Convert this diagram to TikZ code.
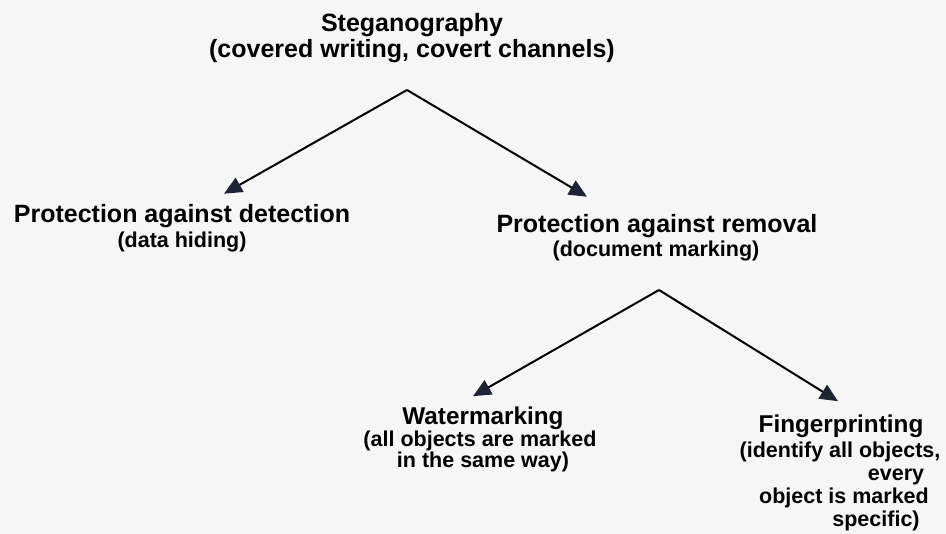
\documentclass[tikz,border=0pt]{standalone}
\usepackage{fontspec}
\setmainfont{Liberation Sans}
\usetikzlibrary{arrows.meta}
\definecolor{tipdark}{HTML}{1E2433}
\definecolor{paper}{HTML}{F6F6F6}

\begin{document}
\begin{tikzpicture}[x=1pt, y=-1pt,
	head/.style={inner sep=0, anchor=base, font=\bfseries\fontsize{25}{30}\selectfont},
	leaf/.style={inner sep=0, anchor=base, font=\bfseries\fontsize{24.3}{29}\selectfont},
	subhead/.style={inner sep=0, anchor=base, font=\bfseries\fontsize{21.5}{26}\selectfont},
	branch/.style={line width=2pt, -{Triangle[length=18pt, width=16pt, color=tipdark]}}]

% page
	\fill[paper] (0,0) rectangle (946,534);
	\useasboundingbox (0,0) rectangle (946,534);

% top of the tree
	\node[head] (steg) at (412,32) {Steganography};
	\node[head] (stegsub) at (412,58) {(covered writing, covert channels)};
	\coordinate (split1) at (407,90);

% first level
	\node[head] (detect) at (182,223) {Protection against detection};
	\node[subhead] (detectsub) at (182,248) {(data hiding)};
	\node[head] (removal) at (657,233) {Protection against removal};
	\node[subhead] (removalsub) at (656,257) {(document marking)};
	\coordinate (split2) at (659,290);

% second level
	\node[leaf] (water) at (483,425) {Watermarking};
	\node[subhead] (watersub) at (480,447) {(all objects are marked};
	\node[subhead] (watersubb) at (483,468) {in the same way)};

	\node[leaf] (finger) at (841,433) {Fingerprinting};
	\node[subhead] (fingersub) at (840,458) {(identify all objects,};
	\node[subhead] (fingersubb) at (896,481) {every};
	\node[subhead] (fingersubc) at (844,504) {object is marked};
	\node[subhead] (fingersubd) at (876,527) {specific)};

% branches
	\draw[branch] (split1) -- ([xshift=42pt, yshift=11pt]detect.north);
	\draw[branch] (split1) -- ([xshift=-70pt, yshift=18pt]removal.north);
	\draw[branch] (split2) -- ([xshift=-10pt, yshift=11pt]water.north);
	\draw[branch] (split2) -- ([xshift=-3pt, yshift=14pt]finger.north);

\end{tikzpicture}
\end{document}
